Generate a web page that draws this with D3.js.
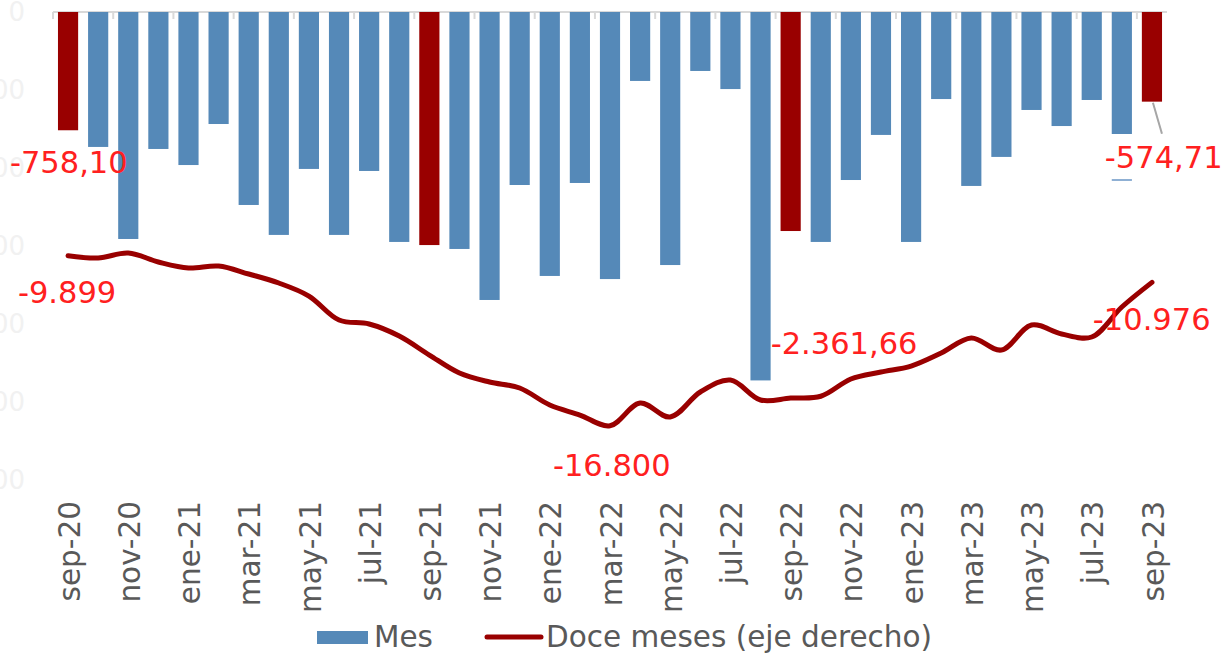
<!DOCTYPE html>
<html>
<head>
<meta charset="utf-8">
<script src="https://cdn.jsdelivr.net/npm/d3@7"></script>
<style>
  html, body { margin: 0; padding: 0; background: #fff; }
  svg { display: block; font-family: "DejaVu Sans", Verdana, sans-serif; }
</style>
</head>
<body>
<svg id="chart" width="1224" height="654"></svg>
<script>
// ---- data ----
const months = [
  "sep-20","oct-20","nov-20","dic-20","ene-21","feb-21","mar-21","abr-21","may-21","jun-21","jul-21","ago-21",
  "sep-21","oct-21","nov-21","dic-21","ene-22","feb-22","mar-22","abr-22","may-22","jun-22","jul-22","ago-22",
  "sep-22","oct-22","nov-22","dic-22","ene-23","feb-23","mar-23","abr-23","may-23","jun-23","jul-23","ago-23",
  "sep-23"
];

// monthly value (left axis)
const mesValues = [
  -758.10, -865, -1455, -878, -981, -718, -1237, -1429, -1006, -1429, -1019, -1474,
  -1494, -1519, -1846, -1109, -1692, -1096, -1712, -442, -1622, -378, -494, -2361.66,
  -1404, -1474, -1077, -788, -1474, -558, -1115, -929, -628, -731, -564, -782,
  -574.71
];

// twelve-month accumulated (right axis)
const doceValues = [
  -9899, -9988, -9785, -10150, -10394, -10313, -10637, -11003, -11531, -12505, -12667, -13155,
  -13926, -14657, -15022, -15266, -15956, -16362, -16800, -15875, -16443, -15428, -14941, -15753,
  -15672, -15600, -14900, -14616, -14373, -13845, -13236, -13723, -12708, -13073, -13195, -11977,
  -10976
];

const leftTicks = [0, -500, -1000, -1500, -2000, -2500, -3000];
const tickMonths = months.filter((m, i) => i % 2 === 0);

const blue = "#5589b8";
const darkRed = "#990000";
const labelRed = "#ff2020";
const gray = "#595959";

const svg = d3.select("#chart");

const x = d3.scaleBand()
  .domain(months)
  .range([53, 1167])
  .paddingInner(0.33)
  .paddingOuter(0.165);

const yL = d3.scaleLinear().domain([-3000, 0]).range([480, 12]);
const yR = d3.scaleLinear().domain([-19000, 0]).range([480, 12]);

const cx = m => x(m) + x.bandwidth() / 2;

// faint, mostly clipped left axis labels
const leftAxis = d3.axisLeft(yL)
  .tickValues(leftTicks)
  .tickSize(0)
  .tickPadding(0)
  .tickFormat(d => d3.format(",")(d).replace(/,/g, "."));
const gL = svg.append("g").attr("transform", "translate(25,0)").call(leftAxis);
gL.select(".domain").remove();
gL.selectAll("text")
  .attr("font-family", "DejaVu Sans, sans-serif")
  .attr("font-size", 26)
  .attr("fill", "#f1f1f1");

// top axis line with ticks every two months
const step = x.step();
const x0 = x.range()[0];
svg.append("line")
  .attr("x1", x0).attr("x2", x.range()[1])
  .attr("y1", yL(0)).attr("y2", yL(0))
  .attr("stroke", "#d9d9d9").attr("stroke-width", 2);

svg.append("g").selectAll("line")
  .data(d3.range(0, months.length, 2))
  .join("line")
  .attr("x1", i => x0 + i * step)
  .attr("x2", i => x0 + i * step)
  .attr("y1", yL(0))
  .attr("y2", yL(0) + 7)
  .attr("stroke", "#d9d9d9").attr("stroke-width", 2);

// bars
svg.append("g").selectAll("rect")
  .data(months)
  .join("rect")
  .attr("x", m => x(m))
  .attr("y", yL(0))
  .attr("width", x.bandwidth())
  .attr("height", (m, i) => yL(mesValues[i]) - yL(0))
  .attr("fill", m => m.startsWith("sep") ? darkRed : blue);

// twelve-month line
const line = d3.line()
  .x((d, i) => cx(months[i]))
  .y(d => yR(d))
  .curve(d3.curveCatmullRom.alpha(0.5));

svg.append("path")
  .datum(doceValues)
  .attr("d", line)
  .attr("fill", "none")
  .attr("stroke", darkRed)
  .attr("stroke-width", 5)
  .attr("stroke-linecap", "round")
  .attr("stroke-linejoin", "round");

// month labels (rotated)
svg.append("g").selectAll("text")
  .data(tickMonths)
  .join("text")
  .attr("transform", m => `translate(${cx(m) + 1},501) rotate(-90)`)
  .attr("text-anchor", "end")
  .attr("dy", "0.36em")
  .attr("font-size", 29.5)
  .attr("fill", gray)
  .text(m => m);

// data labels
const idx = m => months.indexOf(m);
const labels = [
  { text: "-758,10", x: x("sep-20") - 48, y: yL(mesValues[idx("sep-20")]) + 43 },
  { text: "-574,71", x: x("sep-23") - 37, y: yL(mesValues[idx("sep-23")]) + 66 },
  { text: "-2.361,66", x: x("ago-22") + x.bandwidth(), y: yL(mesValues[idx("ago-22")]) - 26 },
  { text: "-9.899", x: x("sep-20") - 40, y: yR(doceValues[idx("sep-20")]) + 47 },
  { text: "-16.800", x: x("mar-22") - 47, y: yR(doceValues[idx("mar-22")]) + 50 },
  { text: "-10.976", x: x("sep-23") - 49, y: yR(doceValues[idx("sep-23")]) + 48 }
];

svg.append("g").selectAll("text")
  .data(labels)
  .join("text")
  .attr("x", d => d.x)
  .attr("y", d => d.y)
  .attr("font-size", 30.5)
  .attr("fill", labelRed)
  .text(d => d.text);

// leader line for last bar label
const lastY = yL(mesValues[idx("sep-23")]);
svg.append("line")
  .attr("x1", cx("sep-23") + 1).attr("y1", lastY + 1)
  .attr("x2", cx("sep-23") + 10).attr("y2", lastY + 32)
  .attr("stroke", "#a6a6a6").attr("stroke-width", 2);

// stray blue dash under ago-23 bar
svg.append("line")
  .attr("x1", x("ago-23")).attr("x2", x("ago-23") + x.bandwidth())
  .attr("y1", yL(mesValues[idx("ago-23")]) + 46)
  .attr("y2", yL(mesValues[idx("ago-23")]) + 46)
  .attr("stroke", "#8fb0d4").attr("stroke-width", 2);

// legend
const legend = svg.append("g");
legend.append("rect")
  .attr("x", 317).attr("y", 631).attr("width", 51).attr("height", 13)
  .attr("fill", blue);
legend.append("text")
  .attr("x", 374).attr("y", 647)
  .attr("font-size", 29.5).attr("fill", gray)
  .text("Mes");
legend.append("line")
  .attr("x1", 487).attr("x2", 541).attr("y1", 637).attr("y2", 637)
  .attr("stroke", darkRed).attr("stroke-width", 5).attr("stroke-linecap", "round");
legend.append("text")
  .attr("x", 546).attr("y", 647)
  .attr("font-size", 29.5).attr("fill", gray)
  .text("Doce meses (eje derecho)");
</script>
</body>
</html>
